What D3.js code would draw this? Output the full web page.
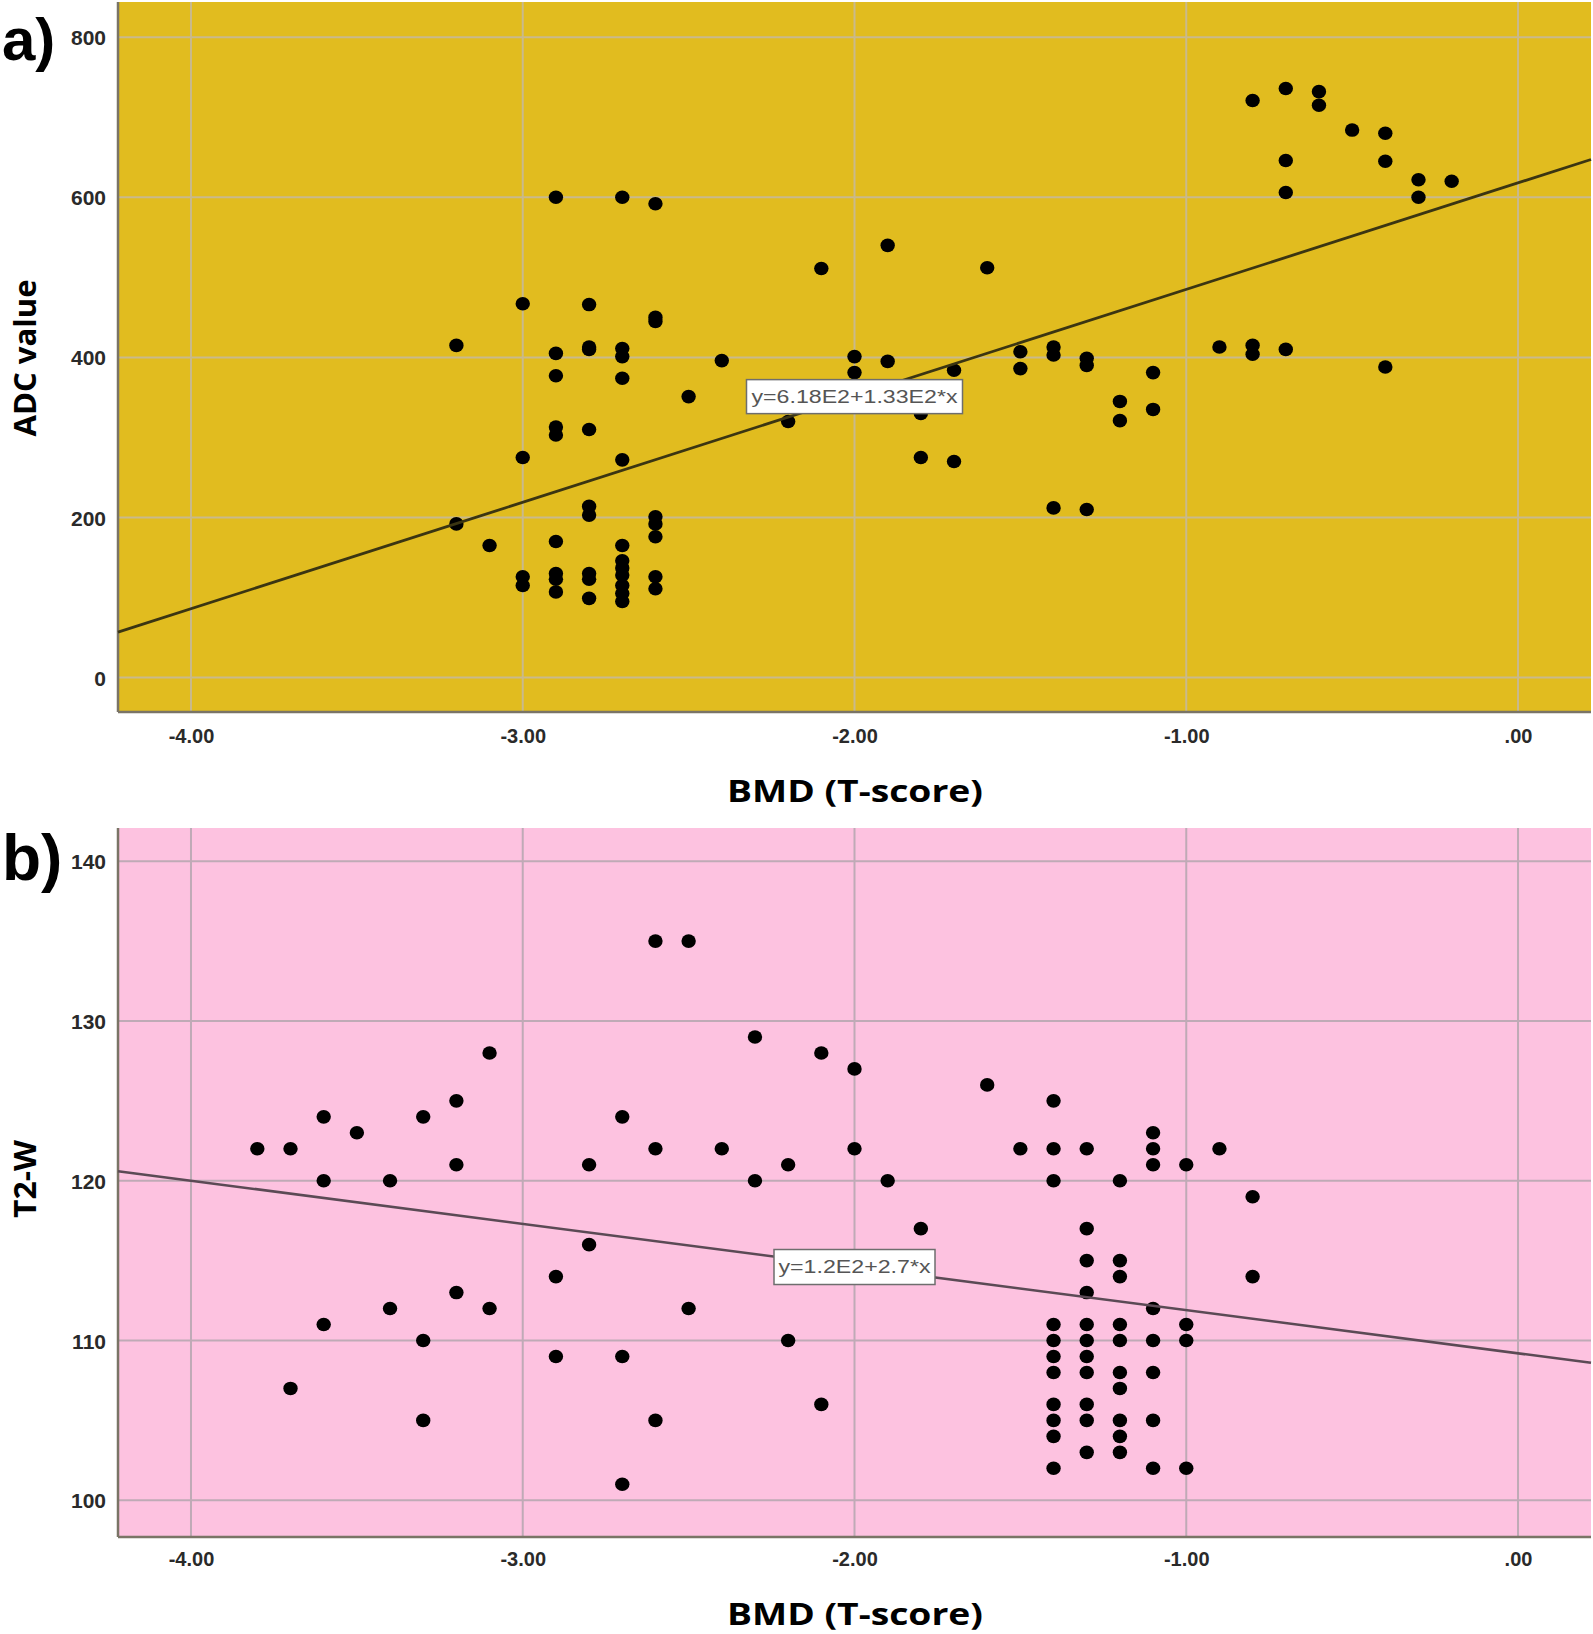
<!DOCTYPE html>
<html>
<head>
<meta charset="utf-8">
<script src="https://cdn.jsdelivr.net/npm/d3@7"></script>
<style>
  html, body { margin: 0; padding: 0; background: #ffffff; }
  svg { display: block; }
</style>
</head>
<body>
<svg id="chart" width="1593" height="1634"></svg>
<script>
// ---------------- DATA ----------------
const bmdTicks = [-4, -3, -2, -1, 0];
const bmdTickLabels = ["-4.00", "-3.00", "-2.00", "-1.00", ".00"];
const adcTicks = [0, 200, 400, 600, 800];
const t2Ticks = [100, 110, 120, 130, 140];

// Panel a: BMD (T-score) vs ADC value, grouped by T-score
const adcColumns = [
  [-3.2, [415, 192]],
  [-3.1, [165]],
  [-3.0, [467, 275, 126, 115]],
  [-2.9, [600, 405, 377, 313, 303, 170, 130, 123, 107]],
  [-2.8, [466, 413, 410, 310, 214, 203, 130, 123, 99]],
  [-2.7, [600, 411, 401, 374, 272, 165, 146, 137, 128, 115, 105, 95]],
  [-2.6, [592, 450, 445, 201, 192, 176, 126, 111]],
  [-2.5, [351]],
  [-2.4, [396]],
  [-2.2, [320]],
  [-2.1, [511]],
  [-2.0, [401, 381]],
  [-1.9, [540, 395]],
  [-1.8, [330, 275]],
  [-1.7, [384, 270]],
  [-1.6, [512]],
  [-1.5, [407, 386]],
  [-1.4, [413, 403, 212]],
  [-1.3, [399, 390, 210]],
  [-1.2, [345, 321]],
  [-1.1, [381, 335]],
  [-0.9, [413]],
  [-0.8, [721, 415, 404]],
  [-0.7, [736, 646, 606, 410]],
  [-0.6, [732, 715]],
  [-0.5, [684]],
  [-0.4, [680, 645, 388]],
  [-0.3, [622, 600]],
  [-0.2, [620]]
];

// Panel b: BMD (T-score) vs T2-W, grouped by T-score
const t2Columns = [
  [-3.8, [122]],
  [-3.7, [122, 107]],
  [-3.6, [124, 120, 111]],
  [-3.5, [123]],
  [-3.4, [120, 112]],
  [-3.3, [124, 110, 105]],
  [-3.2, [125, 121, 113]],
  [-3.1, [128, 112]],
  [-2.9, [114, 109]],
  [-2.8, [121, 116]],
  [-2.7, [124, 109, 101]],
  [-2.6, [135, 122, 105]],
  [-2.5, [135, 112]],
  [-2.4, [122]],
  [-2.3, [129, 120]],
  [-2.2, [121, 110]],
  [-2.1, [128, 106]],
  [-2.0, [127, 122]],
  [-1.9, [120]],
  [-1.8, [117]],
  [-1.6, [126]],
  [-1.5, [122]],
  [-1.4, [125, 122, 120, 111, 110, 109, 108, 106, 105, 104, 102]],
  [-1.3, [122, 117, 115, 113, 111, 110, 109, 108, 106, 105, 103]],
  [-1.2, [120, 115, 114, 111, 110, 108, 107, 105, 104, 103]],
  [-1.1, [123, 122, 121, 112, 110, 108, 105, 102]],
  [-1.0, [121, 111, 110, 102]],
  [-0.9, [122]],
  [-0.8, [119, 114]]
];

// Fit lines (as drawn) and their labels
const adcFit = { intercept: 618, slope: 133 };
const t2Fit = { intercept: 109.2, slope: -2.7 };
const adcFitLabel = "y=6.18E2+1.33E2*x";
const t2FitLabel = "y=1.2E2+2.7*x";
const adcFitLabelAt = [-2.0, 351];
const t2FitLabelAt = [-2.0, 114.6];

const panelLetters = ["a)", "b)"];
const xTitle = "BMD (T-score)";
const yTitles = ["ADC value", "T2-W"];

// ---------------- DRAW ----------------
const svg = d3.select("#chart");

const panels = [
  {
    letter: panelLetters[0], yTitle: yTitles[0], cols: adcColumns, fit: adcFit,
    fitLabel: adcFitLabel, fitLabelAt: adcFitLabelAt, fitLabelW: 216, fitLabelH: 34, fitTextLen: 206,
    top: 2, bottom: 712, yDomain: [-43, 844], yTicks: adcTicks,
    bg: "#e1bc1f", grid: "#c9b98c", lineColor: "#3b3512", lineW: 2.8,
    letterY: 60, letterSize: 60, yTitleY: 358, yTitleLen: 157,
    xTickY: 743, xTitleY: 802
  },
  {
    letter: panelLetters[1], yTitle: yTitles[1], cols: t2Columns, fit: t2Fit,
    fitLabel: t2FitLabel, fitLabelAt: t2FitLabelAt, fitLabelW: 161, fitLabelH: 35, fitTextLen: 152,
    top: 828, bottom: 1537, yDomain: [97.7, 142.08], yTicks: t2Ticks,
    bg: "#fdc2e0", grid: "#bfaab6", lineColor: "#5b4a55", lineW: 2.6,
    letterY: 880, letterSize: 64, yTitleY: 1179, yTitleLen: 78,
    xTickY: 1566, xTitleY: 1625
  }
];

const left = 118, right = 1591;

panels.forEach(p => {
  const x = d3.scaleLinear().domain([-4.22, 0.22]).range([left, right]);
  const y = d3.scaleLinear().domain(p.yDomain).range([p.bottom, p.top]);
  const g = svg.append("g");

  // background
  g.append("rect")
    .attr("x", left).attr("y", p.top)
    .attr("width", right - left).attr("height", p.bottom - p.top)
    .attr("fill", p.bg);

  // grid lines
  g.append("g").selectAll("line").data(p.yTicks).join("line")
    .attr("x1", left).attr("x2", right)
    .attr("y1", d => y(d)).attr("y2", d => y(d))
    .attr("stroke", p.grid).attr("stroke-width", 2);
  g.append("g").selectAll("line").data(bmdTicks).join("line")
    .attr("y1", p.top).attr("y2", p.bottom)
    .attr("x1", d => x(d)).attr("x2", d => x(d))
    .attr("stroke", p.grid).attr("stroke-width", 2);

  // y axis tick labels
  const yAxis = d3.axisLeft(y).tickValues(p.yTicks).tickSize(0).tickPadding(12).tickFormat(d3.format("d"));
  const ya = g.append("g").attr("transform", `translate(${left},0)`).call(yAxis);
  ya.select(".domain").remove();
  ya.selectAll("text")
    .attr("font-family", "'Liberation Sans', Arial, sans-serif")
    .attr("font-size", 21).attr("font-weight", "bold").attr("fill", "#2a2a2a")
    .attr("dy", "0.36em");

  // x axis tick labels
  const xAxis = d3.axisBottom(x).tickValues(bmdTicks).tickSize(0).tickPadding(0)
    .tickFormat((d, i) => bmdTickLabels[i]);
  const xa = g.append("g").attr("transform", `translate(0,${p.xTickY})`).call(xAxis);
  xa.select(".domain").remove();
  xa.selectAll("text")
    .attr("y", 0).attr("dy", 0)
    .attr("font-family", "'Liberation Sans', Arial, sans-serif")
    .attr("font-size", 20).attr("font-weight", 600).attr("fill", "#2a2a2a");

  // axis lines (left & bottom)
  g.append("line").attr("x1", left).attr("x2", left).attr("y1", p.top).attr("y2", p.bottom)
    .attr("stroke", "#7a7466").attr("stroke-width", 2.5);
  g.append("line").attr("x1", left).attr("x2", right).attr("y1", p.bottom).attr("y2", p.bottom)
    .attr("stroke", "#7a7466").attr("stroke-width", 2.5);

  // points
  const pts = [];
  p.cols.forEach(([bx, vals]) => vals.forEach(v => pts.push([bx, v])));
  g.append("g").selectAll("ellipse").data(pts).join("ellipse")
    .attr("cx", d => x(d[0])).attr("cy", d => y(d[1]))
    .attr("rx", 7.2).attr("ry", 6.8)
    .attr("fill", "#000");

  // fit line
  const [x0, x1] = x.domain();
  g.append("line")
    .attr("x1", x(x0)).attr("y1", y(p.fit.intercept + p.fit.slope * x0))
    .attr("x2", x(x1)).attr("y2", y(p.fit.intercept + p.fit.slope * x1))
    .attr("stroke", p.lineColor).attr("stroke-width", p.lineW);

  // fit label box
  const cx = x(p.fitLabelAt[0]), cy = y(p.fitLabelAt[1]);
  g.append("rect")
    .attr("x", cx - p.fitLabelW / 2).attr("y", cy - p.fitLabelH / 2)
    .attr("width", p.fitLabelW).attr("height", p.fitLabelH)
    .attr("fill", "#ffffff").attr("stroke", "#6e6e6e").attr("stroke-width", 1.5);
  g.append("text")
    .attr("x", cx).attr("y", cy).attr("dy", "0.36em")
    .attr("text-anchor", "middle")
    .attr("font-family", "'Liberation Sans', Arial, sans-serif")
    .attr("font-size", 18).attr("fill", "#555")
    .attr("textLength", p.fitTextLen).attr("lengthAdjust", "spacingAndGlyphs")
    .text(p.fitLabel);

  // x title
  g.append("text")
    .attr("x", 855).attr("y", p.xTitleY)
    .attr("text-anchor", "middle")
    .attr("font-family", "'Open Sans', 'Liberation Sans', sans-serif")
    .attr("font-size", 30).attr("font-weight", "bold").attr("fill", "#000")
    .attr("textLength", 256).attr("lengthAdjust", "spacingAndGlyphs")
    .text(xTitle);

  // y title
  g.append("text")
    .attr("transform", `translate(36,${p.yTitleY}) rotate(-90)`)
    .attr("text-anchor", "middle")
    .attr("font-family", "'Open Sans', 'Liberation Sans', sans-serif")
    .attr("font-size", 30).attr("font-weight", "bold").attr("fill", "#000")
    .attr("textLength", p.yTitleLen).attr("lengthAdjust", "spacingAndGlyphs")
    .text(p.yTitle);

  // panel letter
  g.append("text")
    .attr("x", 2).attr("y", p.letterY)
    .attr("font-family", "'Liberation Sans', Arial, sans-serif")
    .attr("font-size", p.letterSize).attr("font-weight", "bold").attr("fill", "#000")
    .text(p.letter);
});
</script>
</body>
</html>
